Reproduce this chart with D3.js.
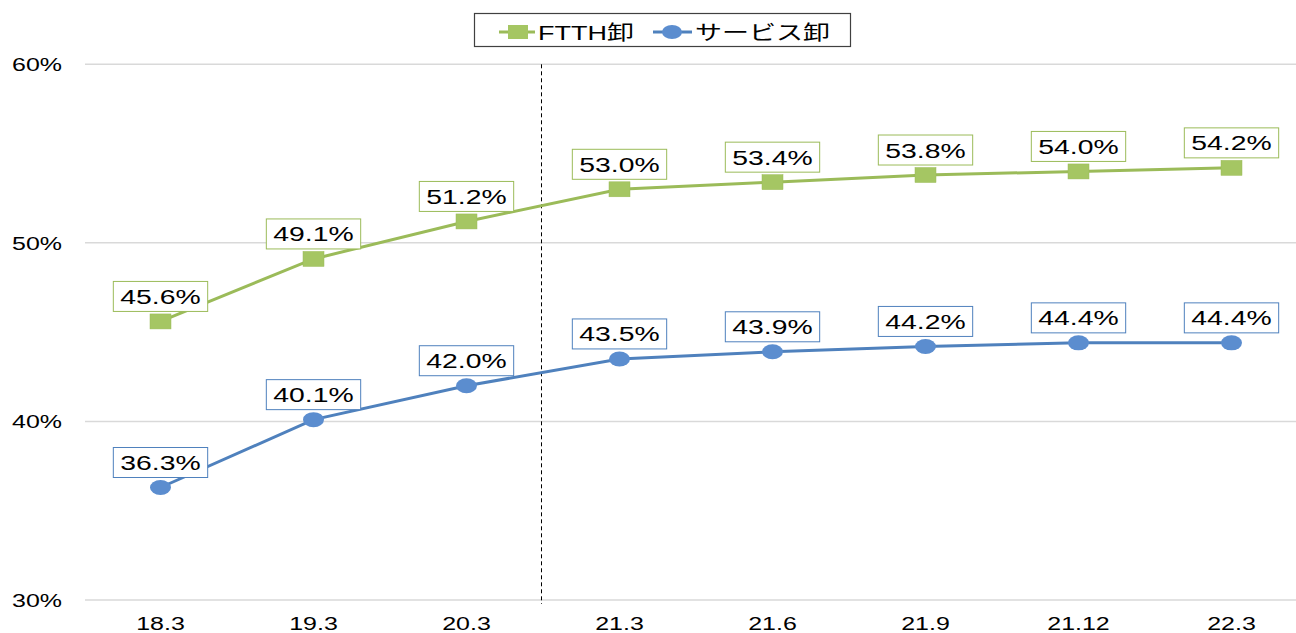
<!DOCTYPE html>
<html>
<head>
<meta charset="utf-8">
<script src="https://cdn.jsdelivr.net/npm/d3@7"></script>
<style>
  body { margin: 0; background: #fff; }
  text { font-family: "Liberation Sans", Arial, "Noto Sans CJK JP", sans-serif; fill: #000; }
</style>
</head>
<body>
<script>
const categories = ['18.3', '19.3', '20.3', '21.3', '21.6', '21.9', '21.12', '22.3'];
const ftthValues = [45.6, 49.1, 51.2, 53.0, 53.4, 53.8, 54.0, 54.2];
const serviceValues = [36.3, 40.1, 42.0, 43.5, 43.9, 44.2, 44.4, 44.4];
const yTicks = [30, 40, 50, 60];
const seriesNames = ['FTTH卸', 'サービス卸'];

const width = 1296;
const height = 633;
const stretch = 1.35; // the picture is wider than tall text would be

const green = '#9BBB59';
const blue = '#4F81BD';

const svg = d3.select('body')
  .append('svg')
    .attr('width', width)
    .attr('height', height);

const x = d3.scaleBand()
  .domain(categories)
  .range([84, 1308])
  .padding(0);

const y = d3.scaleLinear()
  .domain([30, 60])
  .range([600, 64.3]);

const cx = d => x(d) + x.bandwidth() / 2;

// stretched text helper
const addText = (parent, tx, ty, str, size, anchor) => {
  const g = parent.append('g')
    .attr('transform', `translate(${tx},${ty}) scale(${stretch},1)`);
  return g.append('text')
    .text(str)
    .attr('text-anchor', anchor)
    .attr('font-size', size);
};

// gridlines
svg.append('g')
  .selectAll('line')
  .data(yTicks)
  .enter()
  .append('line')
    .attr('x1', 85)
    .attr('x2', width)
    .attr('y1', d => y(d))
    .attr('y2', d => y(d))
    .attr('stroke', '#d9d9d9')
    .attr('stroke-width', 1.5);

// y labels
yTicks.forEach(t => {
  addText(svg, 62, y(t) + 7, t + '%', 18.5, 'end');
});

// x labels
categories.forEach(c => {
  addText(svg, cx(c), 630, c, 18.5, 'middle');
});

// dashed divider between 20.3 and 21.3
const divX = x('20.3') + x.bandwidth() - 1.5;
svg.append('line')
  .attr('x1', divX)
  .attr('x2', divX)
  .attr('y1', y(60))
  .attr('y2', 604)
  .attr('stroke', '#000')
  .attr('stroke-width', 1)
  .attr('stroke-dasharray', '4,3');

const line = d3.line()
  .x((d, i) => cx(categories[i]))
  .y(d => y(d));

const drawSeries = (values, color, shape) => {
  const g = svg.append('g');
  g.append('path')
    .datum(values)
    .attr('d', line)
    .attr('fill', 'none')
    .attr('stroke', color)
    .attr('stroke-width', 3);

  if (shape === 'square') {
    g.selectAll('rect')
      .data(values)
      .enter()
      .append('rect')
        .attr('x', (d, i) => cx(categories[i]) - 10.5)
        .attr('y', d => y(d) - 7.5)
        .attr('width', 21)
        .attr('height', 15)
        .attr('fill', '#A5C663')
        .attr('stroke', '#9BBB59')
        .attr('stroke-width', 0.5);
  } else {
    g.selectAll('ellipse')
      .data(values)
      .enter()
      .append('ellipse')
        .attr('cx', (d, i) => cx(categories[i]))
        .attr('cy', d => y(d))
        .attr('rx', 10.5)
        .attr('ry', 7.5)
        .attr('fill', '#5B8DCF');
  }

  // data labels
  values.forEach((d, i) => {
    const px = cx(categories[i]);
    const py = y(d) - 25;
    const lg = g.append('g');
    const rect = lg.append('rect');
    const t = addText(lg, px, py + 7.5, d.toFixed(1) + '%', 21, 'middle');
    const w = t.node().getComputedTextLength() * stretch + 14;
    rect
      .attr('x', px - w / 2)
      .attr('y', py - 15)
      .attr('width', w)
      .attr('height', 30)
      .attr('fill', '#fff')
      .attr('stroke', color)
      .attr('stroke-width', 1);
  });
};

drawSeries(ftthValues, green, 'square');
drawSeries(serviceValues, blue, 'circle');

// legend
const legend = svg.append('g');
legend.append('rect')
  .attr('x', 474.5)
  .attr('y', 13.5)
  .attr('width', 376)
  .attr('height', 33)
  .attr('fill', '#fff')
  .attr('stroke', '#404040')
  .attr('stroke-width', 1.2);

legend.append('line')
  .attr('x1', 499).attr('x2', 535)
  .attr('y1', 32).attr('y2', 32)
  .attr('stroke', green).attr('stroke-width', 3);
legend.append('rect')
  .attr('x', 508).attr('y', 25)
  .attr('width', 20).attr('height', 14)
  .attr('fill', '#A5C663');
addText(legend, 538, 39.5, seriesNames[0], 20, 'start');

legend.append('line')
  .attr('x1', 653).attr('x2', 692)
  .attr('y1', 32).attr('y2', 32)
  .attr('stroke', blue).attr('stroke-width', 3);
legend.append('ellipse')
  .attr('cx', 672).attr('cy', 32)
  .attr('rx', 10).attr('ry', 7)
  .attr('fill', '#5B8DCF');
addText(legend, 695, 39.5, seriesNames[1], 20, 'start');
</script>
</body>
</html>
